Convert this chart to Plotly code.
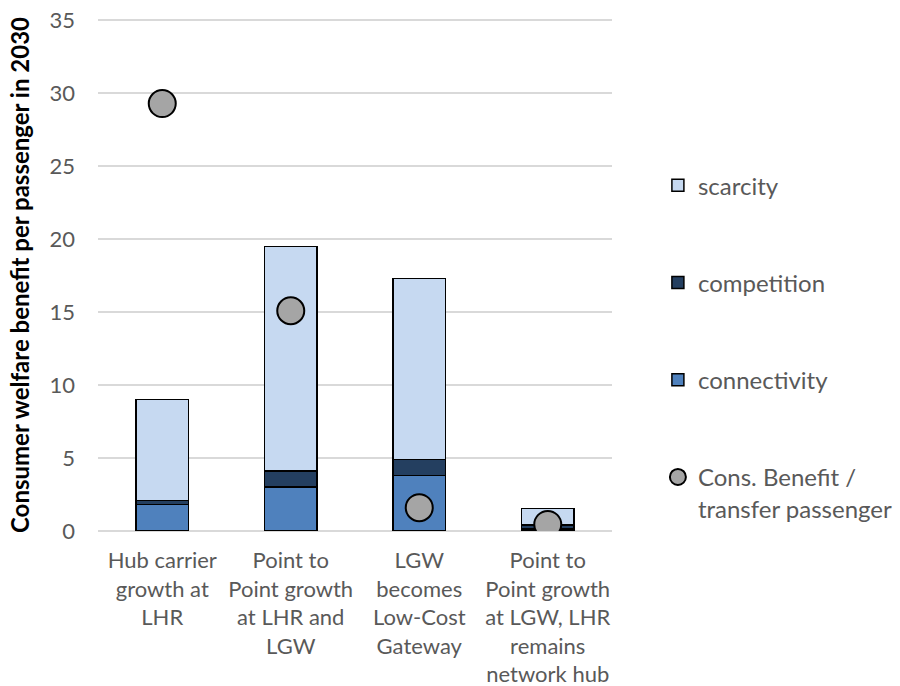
import plotly.graph_objects as go

categories = [
    "Hub carrier<br>growth at<br>LHR",
    "Point to<br>Point growth<br>at LHR and<br>LGW",
    "LGW<br>becomes<br>Low-Cost<br>Gateway",
    "Point to<br>Point growth<br>at LGW, LHR<br>remains<br>network hub",
]
connectivity = [1.8, 3.0, 3.8, 0.15]
competition = [0.3, 1.1, 1.1, 0.25]
scarcity = [6.9, 15.4, 12.4, 1.15]
cons_benefit = [29.3, 15.1, 1.6, 0.45]
y_ticks = [0, 5, 10, 15, 20, 25, 30, 35]

FONT = "Lato, 'Open Sans', sans-serif"
line = dict(color="black", width=1.5)

fig = go.Figure()
fig.add_trace(go.Bar(x=categories, y=connectivity, name="connectivity",
                     marker=dict(color="#4F81BD", line=line),
                     legendgroup="c", legendrank=3))
fig.add_trace(go.Bar(x=categories, y=competition, name="competition",
                     marker=dict(color="#243F60", line=line),
                     legendgroup="b", legendrank=2))
fig.add_trace(go.Bar(x=categories, y=scarcity, name="scarcity",
                     marker=dict(color="#C6D9F1", line=line),
                     legendgroup="a", legendrank=1))
fig.add_trace(go.Scatter(x=categories, y=cons_benefit, mode="markers",
                         name="Cons. Benefit /<br>transfer passenger",
                         marker=dict(color="#A5A5A5", size=27,
                                     line=dict(color="black", width=2)),
                         legendgroup="d", legendrank=4))

fig.update_layout(
    barmode="stack",
    bargap=0.595,
    width=900, height=686,
    margin=dict(l=98, r=288, t=19, b=155),
    plot_bgcolor="white", paper_bgcolor="white",
    font=dict(family=FONT, size=22, color="#595959"),
    showlegend=True,
    legend=dict(xref="container", yref="container", x=0.731, y=0.762,
                xanchor="left", yanchor="top", valign="top",
                tracegroupgap=63, font=dict(size=24, color="#595959"),
                itemwidth=30, maxheight=450),
    yaxis=dict(range=[0, 35.1], tickvals=y_ticks, showgrid=True, gridcolor="#D9D9D9",
               gridwidth=1.5, zeroline=True, zerolinecolor="#D9D9D9",
               zerolinewidth=1.5,
               showline=False, ticks="", ticklabelstandoff=22, automargin=False,
               tickfont=dict(size=22, color="#595959"),
               title=dict(text="<b>Consumer welfare benefit per passenger in 2030</b>",
                          font=dict(size=24, color="black"), standoff=13)),
    xaxis=dict(showline=False, ticks="", automargin=False,
               tickfont=dict(size=22, color="#595959"),
               tickangle=0, ticklabelstandoff=14),
)

fig.write_html("out.html", config={"displayModeBar": False},
               post_script="document.body.style.margin='0';document.body.style.overflow='hidden';")
